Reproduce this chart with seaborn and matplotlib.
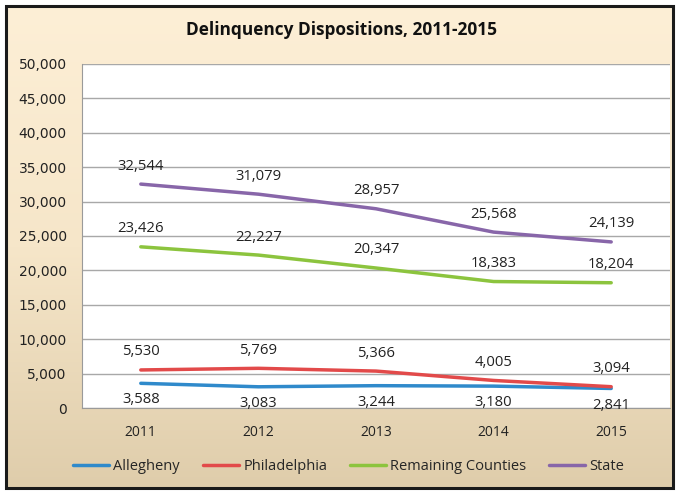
import numpy as np
import pandas as pd
import matplotlib
matplotlib.use("Agg")
import matplotlib.pyplot as plt
import seaborn as sns
from matplotlib.colors import LinearSegmentedColormap
from matplotlib.patches import Rectangle

# Datos
years = ["2011", "2012", "2013", "2014", "2015"]
allegheny = [3588, 3083, 3244, 3180, 2841]
philadelphia = [5530, 5769, 5366, 4005, 3094]
remaining = [23426, 22227, 20347, 18383, 18204]
state = [32544, 31079, 28957, 25568, 24139]

series = ["Allegheny", "Philadelphia", "Remaining Counties", "State"]
colors = ["#2F8ACB", "#E24A4A", "#8CC43E", "#8866A9"]

df = pd.DataFrame({"Year": years, "Allegheny": allegheny, "Philadelphia": philadelphia,
                   "Remaining Counties": remaining, "State": state})
df_long = df.melt(id_vars="Year", var_name="Serie", value_name="Valor")
df_long["pos"] = df_long["Year"].map({y: i for i, y in enumerate(years)})

sns.set_style("white")
plt.rcParams["font.family"] = ["Open Sans", "DejaVu Sans"]

fig = plt.figure(figsize=(6.78, 4.91), dpi=100)

# Fondo con degradado
bg = fig.add_axes([0, 0, 1, 1], zorder=0)
bg.set_xlim(0, 678)
bg.set_ylim(491, 0)
bg.axis("off")
cmap = LinearSegmentedColormap.from_list("fondo", ["#FDEFD6", "#F6E6C9", "#DFCDAB"])
grad = np.linspace(0, 1, 256).reshape(-1, 1)
bg.imshow(grad, cmap=cmap, aspect="auto", extent=[6, 673, 488, 6])
bg.add_patch(Rectangle((6, 6), 667, 482, fill=False, edgecolor="#1a1a1a", lw=2.2))

ax = fig.add_axes([82 / 678, 1 - 408 / 491, 588 / 678, 344 / 491], zorder=1)
ax.set_facecolor("white")

sns.lineplot(data=df_long, x="pos", y="Valor", hue="Serie", hue_order=series,
             palette=colors, linewidth=2.5, ax=ax, legend=False, sort=False)

ax.set_xlim(-0.5, 4.5)
ax.set_ylim(0, 50000)
ax.set_yticks(range(0, 50001, 5000))
ax.set_yticklabels([f"{v:,}" for v in range(0, 50001, 5000)], fontsize=10,
                   color="#222222", family="DejaVu Sans")
ax.set_xticks(range(5))
ax.set_xticklabels(years, fontsize=10, color="#222222")
ax.set_xticks(np.arange(-0.5, 5, 1), minor=True)
ax.tick_params(axis="x", which="major", length=0, pad=12)
ax.tick_params(axis="x", which="minor", length=5, color="#9A9A9A")
ax.tick_params(axis="y", length=5, color="#9A9A9A", pad=6)
ax.grid(axis="y", color="#A8A8A8", lw=1)
ax.set_axisbelow(True)
for s in ["top", "right"]:
    ax.spines[s].set_visible(False)
for s in ["left", "bottom"]:
    ax.spines[s].set_color("#9A9A9A")
ax.set_xlabel("")
ax.set_ylabel("")

# Etiquetas de datos
for i in range(5):
    ax.annotate(f"{allegheny[i]:,}", (i, allegheny[i]), xytext=(0, -12), textcoords="offset points",
                ha="center", va="center", fontsize=10.7, color="#222222")
    for vals in (philadelphia, remaining, state):
        ax.annotate(f"{vals[i]:,}", (i, vals[i]), xytext=(0, 13), textcoords="offset points",
                    ha="center", va="center", fontsize=10.7, color="#222222")

fig.text(342 / 678, 1 - 30 / 491, "Delinquency Dispositions, 2011-2015", ha="center", va="center",
         fontsize=12.4, fontweight="bold", color="#111111")

handles = [plt.Line2D([], [], color=c, lw=2.5) for c in colors]
fig.legend(handles, series, loc="center left", bbox_to_anchor=(67 / 678, 1 - 467 / 491), ncol=4,
           frameon=False, fontsize=10.5, handlelength=2.5, handletextpad=0.28, columnspacing=1.55,
           borderaxespad=0)

fig.savefig("out.png", dpi=100)
